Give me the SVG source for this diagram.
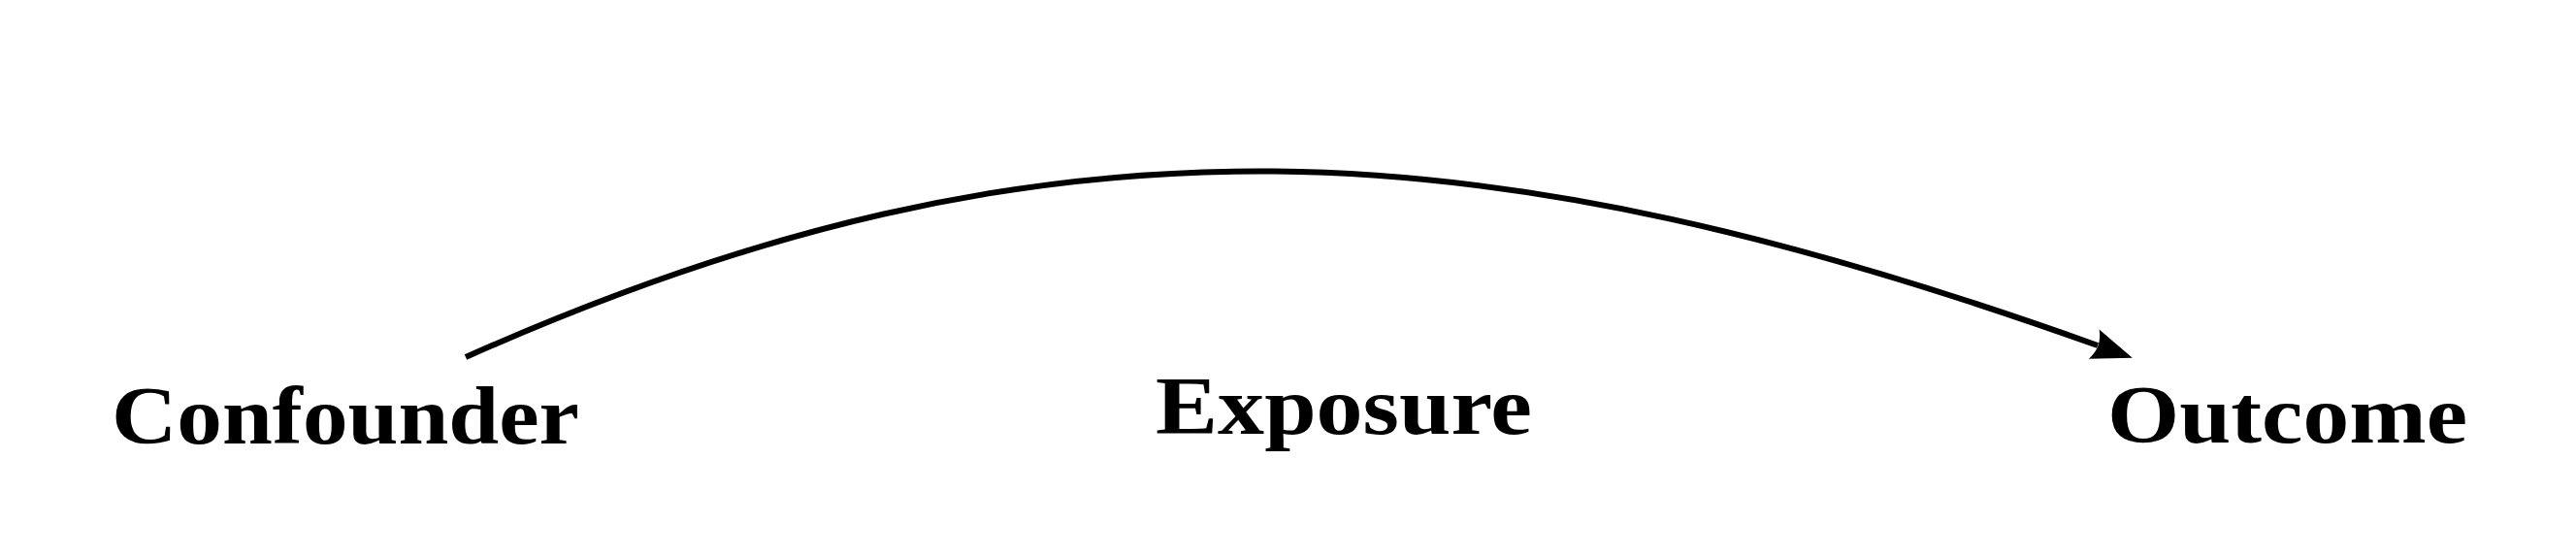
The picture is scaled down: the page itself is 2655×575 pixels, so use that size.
<svg xmlns="http://www.w3.org/2000/svg" width="2655" height="575" viewBox="0 0 2655 575">
  <style>
    .lbl { font-family: "Liberation Serif", "Times New Roman", serif; font-weight: bold; font-size: 84px; fill: #000; }
    .edge { fill: none; stroke: #000; stroke-width: 6; }
  </style>
  <defs>
    <marker id="arrow" markerUnits="userSpaceOnUse" markerWidth="60" markerHeight="40" refX="4" refY="0" orient="auto" overflow="visible" viewBox="-5 -20 60 40">
      <path d="M0,-16 L42,0 L0,16 Q9,0 0,-16 Z" fill="#000"/>
    </marker>
  </defs>
  <rect width="2655" height="575" fill="#fff"/>
  <g id="connectors">
    <path class="edge" d="M480,368 C1087.5,97.5 1536,132 2162,356" marker-end="url(#arrow)"/>
  </g>
  <g id="node-confounder">
    <text class="lbl" x="115" y="457" textLength="482" lengthAdjust="spacingAndGlyphs">Confounder</text>
  </g>
  <g id="node-exposure">
    <text class="lbl" x="1191" y="447" textLength="388" lengthAdjust="spacingAndGlyphs">Exposure</text>
  </g>
  <g id="node-outcome">
    <text class="lbl" x="2172" y="456" textLength="371" lengthAdjust="spacingAndGlyphs">Outcome</text>
  </g>
</svg>
